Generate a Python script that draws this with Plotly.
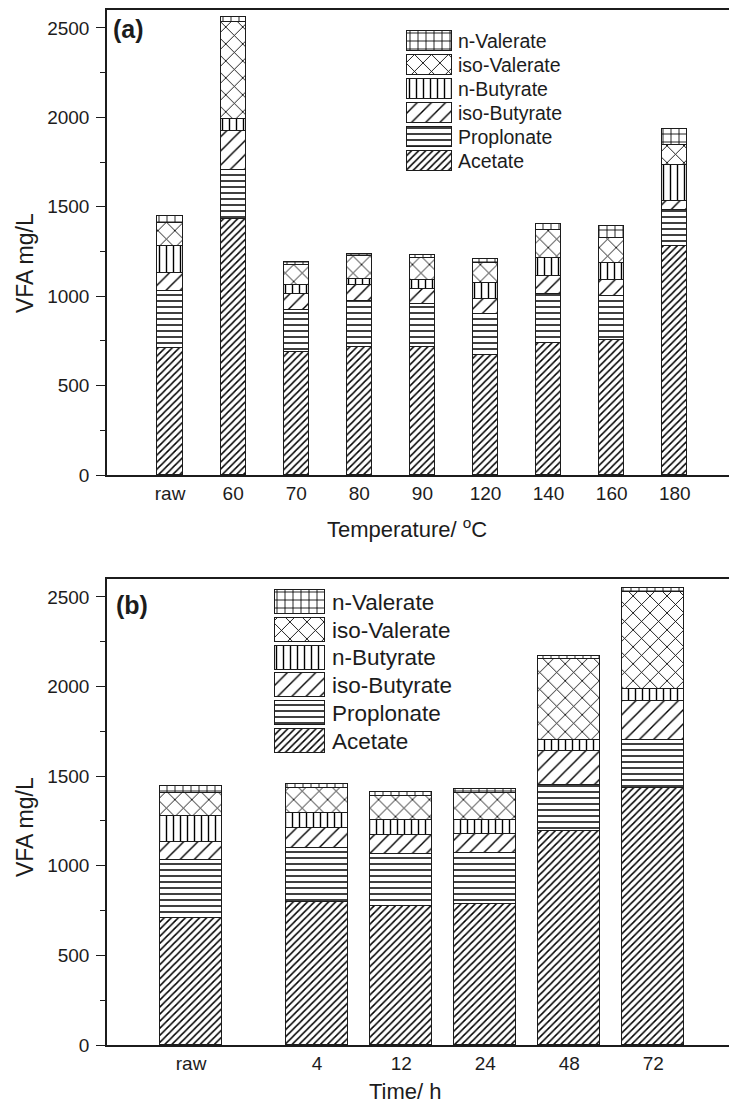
import plotly.graph_objects as go

# ---------------- data ----------------
series = ["Acetate", "Proplonate", "iso-Butyrate", "n-Butyrate", "iso-Valerate", "n-Valerate"]

temp_labels = ["raw", "60", "70", "80", "90", "120", "140", "160", "180"]
temp_acetate = [710, 1431, 685, 715, 718, 672, 737, 756, 1278]
temp_propionate = [320, 272, 235, 259, 237, 227, 276, 246, 205]
temp_isobutyrate = [102, 222, 91, 89, 84, 86, 101, 89, 47]
temp_nbutyrate = [146, 66, 49, 32, 52, 88, 101, 94, 201]
temp_isovalerate = [132, 541, 115, 127, 122, 112, 155, 140, 112]
temp_nvalerate = [36, 30, 15, 13, 18, 24, 35, 65, 92]

time_labels = ["raw", "4", "12", "24", "48", "72"]
time_acetate = [710, 796, 774, 788, 1196, 1434]
time_propionate = [320, 303, 292, 283, 257, 270]
time_isobutyrate = [102, 112, 104, 106, 185, 217]
time_nbutyrate = [146, 84, 83, 80, 62, 66]
time_isovalerate = [130, 139, 134, 149, 456, 541]
time_nvalerate = [38, 24, 25, 23, 16, 22]

# ---------------- layout constants ----------------
time_pos = [0, 1.5, 2.5, 3.5, 4.5, 5.5]   # x placement of the time groups
FONT = "Liberation Sans, Arial, sans-serif"
INK = "#1c1c1c"

patterns = {
    "Acetate": dict(shape="/", size=5, solidity=0.3),
    "Proplonate": dict(shape="-", size=6, solidity=0.25),
    "iso-Butyrate": dict(shape="/", size=10, solidity=0.14),
    "n-Butyrate": dict(shape="|", size=7, solidity=0.2),
    "iso-Valerate": dict(shape="x", size=12, solidity=0.14),
    "n-Valerate": dict(shape="+", size=8, solidity=0.2),
}


def marker_for(name):
    p = patterns[name]
    return dict(
        color="white",
        line=dict(color=INK, width=1.3),
        pattern=dict(shape=p["shape"], size=p["size"], solidity=p["solidity"],
                     fgcolor="#000000", bgcolor="white", fillmode="replace"),
    )


temp_values = [temp_acetate, temp_propionate, temp_isobutyrate,
               temp_nbutyrate, temp_isovalerate, temp_nvalerate]
time_values = [time_acetate, time_propionate, time_isobutyrate,
               time_nbutyrate, time_isovalerate, time_nvalerate]

fig = go.Figure()

for name, vals in zip(series, temp_values):
    fig.add_trace(go.Bar(x=temp_labels, y=vals, name=name, width=0.4,
                         marker=marker_for(name), xaxis="x", yaxis="y",
                         showlegend=False))

for name, vals in zip(series, time_values):
    fig.add_trace(go.Bar(x=time_pos, y=vals, name=name, width=0.74,
                         marker=marker_for(name), xaxis="x2", yaxis="y2",
                         showlegend=False))

# legend swatches (panel a -> x3/y3, panel b -> x4/y4)
for name in series:
    fig.add_trace(go.Bar(x=[1], y=[name], orientation="h", width=0.86,
                         marker=marker_for(name), xaxis="x3", yaxis="y3",
                         showlegend=False, hoverinfo="skip"))
    fig.add_trace(go.Bar(x=[1], y=[name], orientation="h", width=0.86,
                         marker=marker_for(name), xaxis="x4", yaxis="y4",
                         showlegend=False, hoverinfo="skip"))

W, H = 729, 1106
ML, MR, MT, MB = 107, 0, 10, 61
PW = W - ML - MR
PH = H - MT - MB


def px_x(px):
    return (px - ML) / PW


def px_y(py):
    return (H - MB - py) / PH


axis_common = dict(showgrid=False, zeroline=False, showline=True,
                   linecolor=INK, linewidth=1.5,
                   tickfont=dict(family=FONT, size=19, color=INK))

yaxis_common = dict(axis_common, range=[0, 2600], tick0=0, dtick=500,
                    ticks="outside", ticklen=9, tickwidth=1.3, tickcolor=INK,
                    minor=dict(dtick=250, ticks="outside", ticklen=5,
                               tickwidth=1.3, tickcolor=INK),
                    ticklabelstandoff=3)

fig.update_layout(
    width=W, height=H,
    margin=dict(l=ML, r=MR, t=MT, b=MB),
    plot_bgcolor="white", paper_bgcolor="white",
    barmode="stack", bargap=0, showlegend=False,
    font=dict(family=FONT, color=INK),
    xaxis=dict(axis_common, domain=[0, 1], anchor="y", type="category",
               range=[-1, 8.86], ticks="", mirror=True),
    yaxis=dict(yaxis_common, domain=[px_y(475), px_y(10)], anchor="x"),
    xaxis2=dict(axis_common, domain=[0, 1], anchor="y2", range=[-1, 6.4],
                tickvals=time_pos, ticktext=time_labels, ticks="", mirror=True),
    yaxis2=dict(yaxis_common, domain=[px_y(1045), px_y(579)], anchor="x2"),
    xaxis3=dict(domain=[px_x(406), px_x(453)], anchor="y3", range=[-0.03, 1.03],
                visible=False),
    yaxis3=dict(domain=[px_y(173), px_y(29)], anchor="x3", type="category",
                categoryorder="array", categoryarray=series, range=[-0.5, 5.5],
                side="right", showline=False, showgrid=False, zeroline=False,
                ticks="", ticklabelstandoff=4,
                tickfont=dict(family=FONT, size=19.5, color=INK)),
    xaxis4=dict(domain=[px_x(273), px_x(326)], anchor="y4", range=[-0.03, 1.03],
                visible=False),
    yaxis4=dict(domain=[px_y(755), px_y(588)], anchor="x4", type="category",
                categoryorder="array", categoryarray=series, range=[-0.5, 5.5],
                side="right", showline=False, showgrid=False, zeroline=False,
                ticks="", ticklabelstandoff=5,
                tickfont=dict(family=FONT, size=22.5, color=INK)),
)

annotations = [
    dict(text="<b>(a)</b>", x=px_x(111), y=px_y(29), xanchor="left", yanchor="middle",
         font=dict(size=25)),
    dict(text="<b>(b)</b>", x=px_x(114), y=px_y(605), xanchor="left", yanchor="middle",
         font=dict(size=25)),
    dict(text="Temperature/ <sup>o</sup>C", x=px_x(407), y=px_y(528),
         xanchor="center", yanchor="middle", font=dict(size=22)),
    dict(text="Time/ h", x=px_x(405), y=px_y(1091),
         xanchor="center", yanchor="middle", font=dict(size=22)),
    dict(text="VFA mg/L", x=px_x(25), y=px_y(263), textangle=-90,
         xanchor="center", yanchor="middle", font=dict(size=23)),
    dict(text="VFA mg/L", x=px_x(25), y=px_y(827), textangle=-90,
         xanchor="center", yanchor="middle", font=dict(size=23)),
]
for a in annotations:
    a.update(xref="paper", yref="paper", showarrow=False)
    a["font"] = dict(a["font"], family=FONT, color=INK)
fig.update_layout(annotations=annotations)

fig.write_html("out.html")
